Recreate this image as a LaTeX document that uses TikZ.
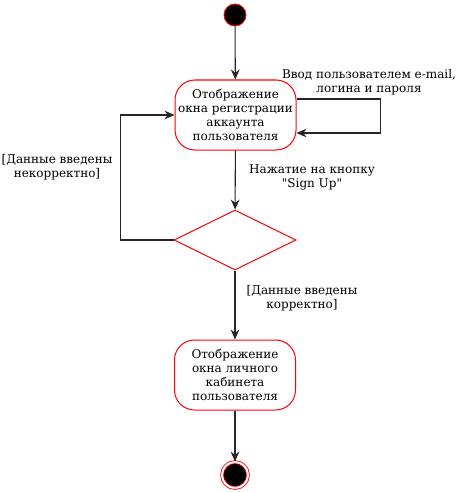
\documentclass[tikz,border=0pt]{standalone}
\usepackage{fontspec}
\setmainfont{DejaVu Serif}[Ligatures=TeXOff]
\usetikzlibrary{arrows.meta}
\usetikzlibrary{shapes.geometric}

\begin{document}
\begin{tikzpicture}[x=0.75pt, y=-0.75pt,
	every node/.style = {align=center, font=\fontsize{9}{10.5}\selectfont},
	state/.style = {shape=rectangle, rounded corners=15pt, draw=red, line width=0.75pt,
		minimum width=90.75pt, minimum height=52.5pt, inner sep=1pt},
	choice/.style = {shape=diamond, draw=red, line width=0.75pt, aspect=2,
		minimum width=91.5pt, minimum height=45pt, inner sep=0pt},
	flow/.style = {draw=black!85, line width=0.8pt, -{Stealth[length=7.5pt, width=6.5pt]}}]
\useasboundingbox (0,0) rectangle (471,492);

\node (start) at (235,15) [circle, fill=black, draw=red, line width=0.6pt,
	minimum size=16.5pt, inner sep=0pt] {};
\node (reg) at (235.5,115) [state] {Отображение\\окна регистрации\\аккаунта\\пользователя};
\node (chk) at (235,240) [choice] {};
\node (cab) at (235,375) [state] {Отображение\\окна личного\\кабинета\\пользователя};
\node (stop) at (235,475) [circle, fill=black, draw=red, double=white,
	double distance=1.5pt, line width=0.6pt, minimum size=19.5pt, inner sep=0pt] {};

\node (input) at (369,82) {Ввод пользователем e-mail,\\логина и пароля};
\node (signup) at (312,177) {Нажатие на кнопку\\"Sign Up"};
\node (wrong) at (57,167) {[Данные введены\\некорректно]};
\node (right) at (302,298) {[Данные введены\\корректно]};

\draw[flow] (start) -- (reg);
\draw[flow] ([yshift=12pt]reg.east) -- ++(84,0) |- ([yshift=-13.5pt]reg.east);
\draw[flow] (reg) -- (chk);
\draw[flow] (chk.west) -- ++(-53,0) |- (reg.west);
\draw[flow] (chk) -- (cab);
\draw[flow] (cab) -- (stop);
\end{tikzpicture}
\end{document}
